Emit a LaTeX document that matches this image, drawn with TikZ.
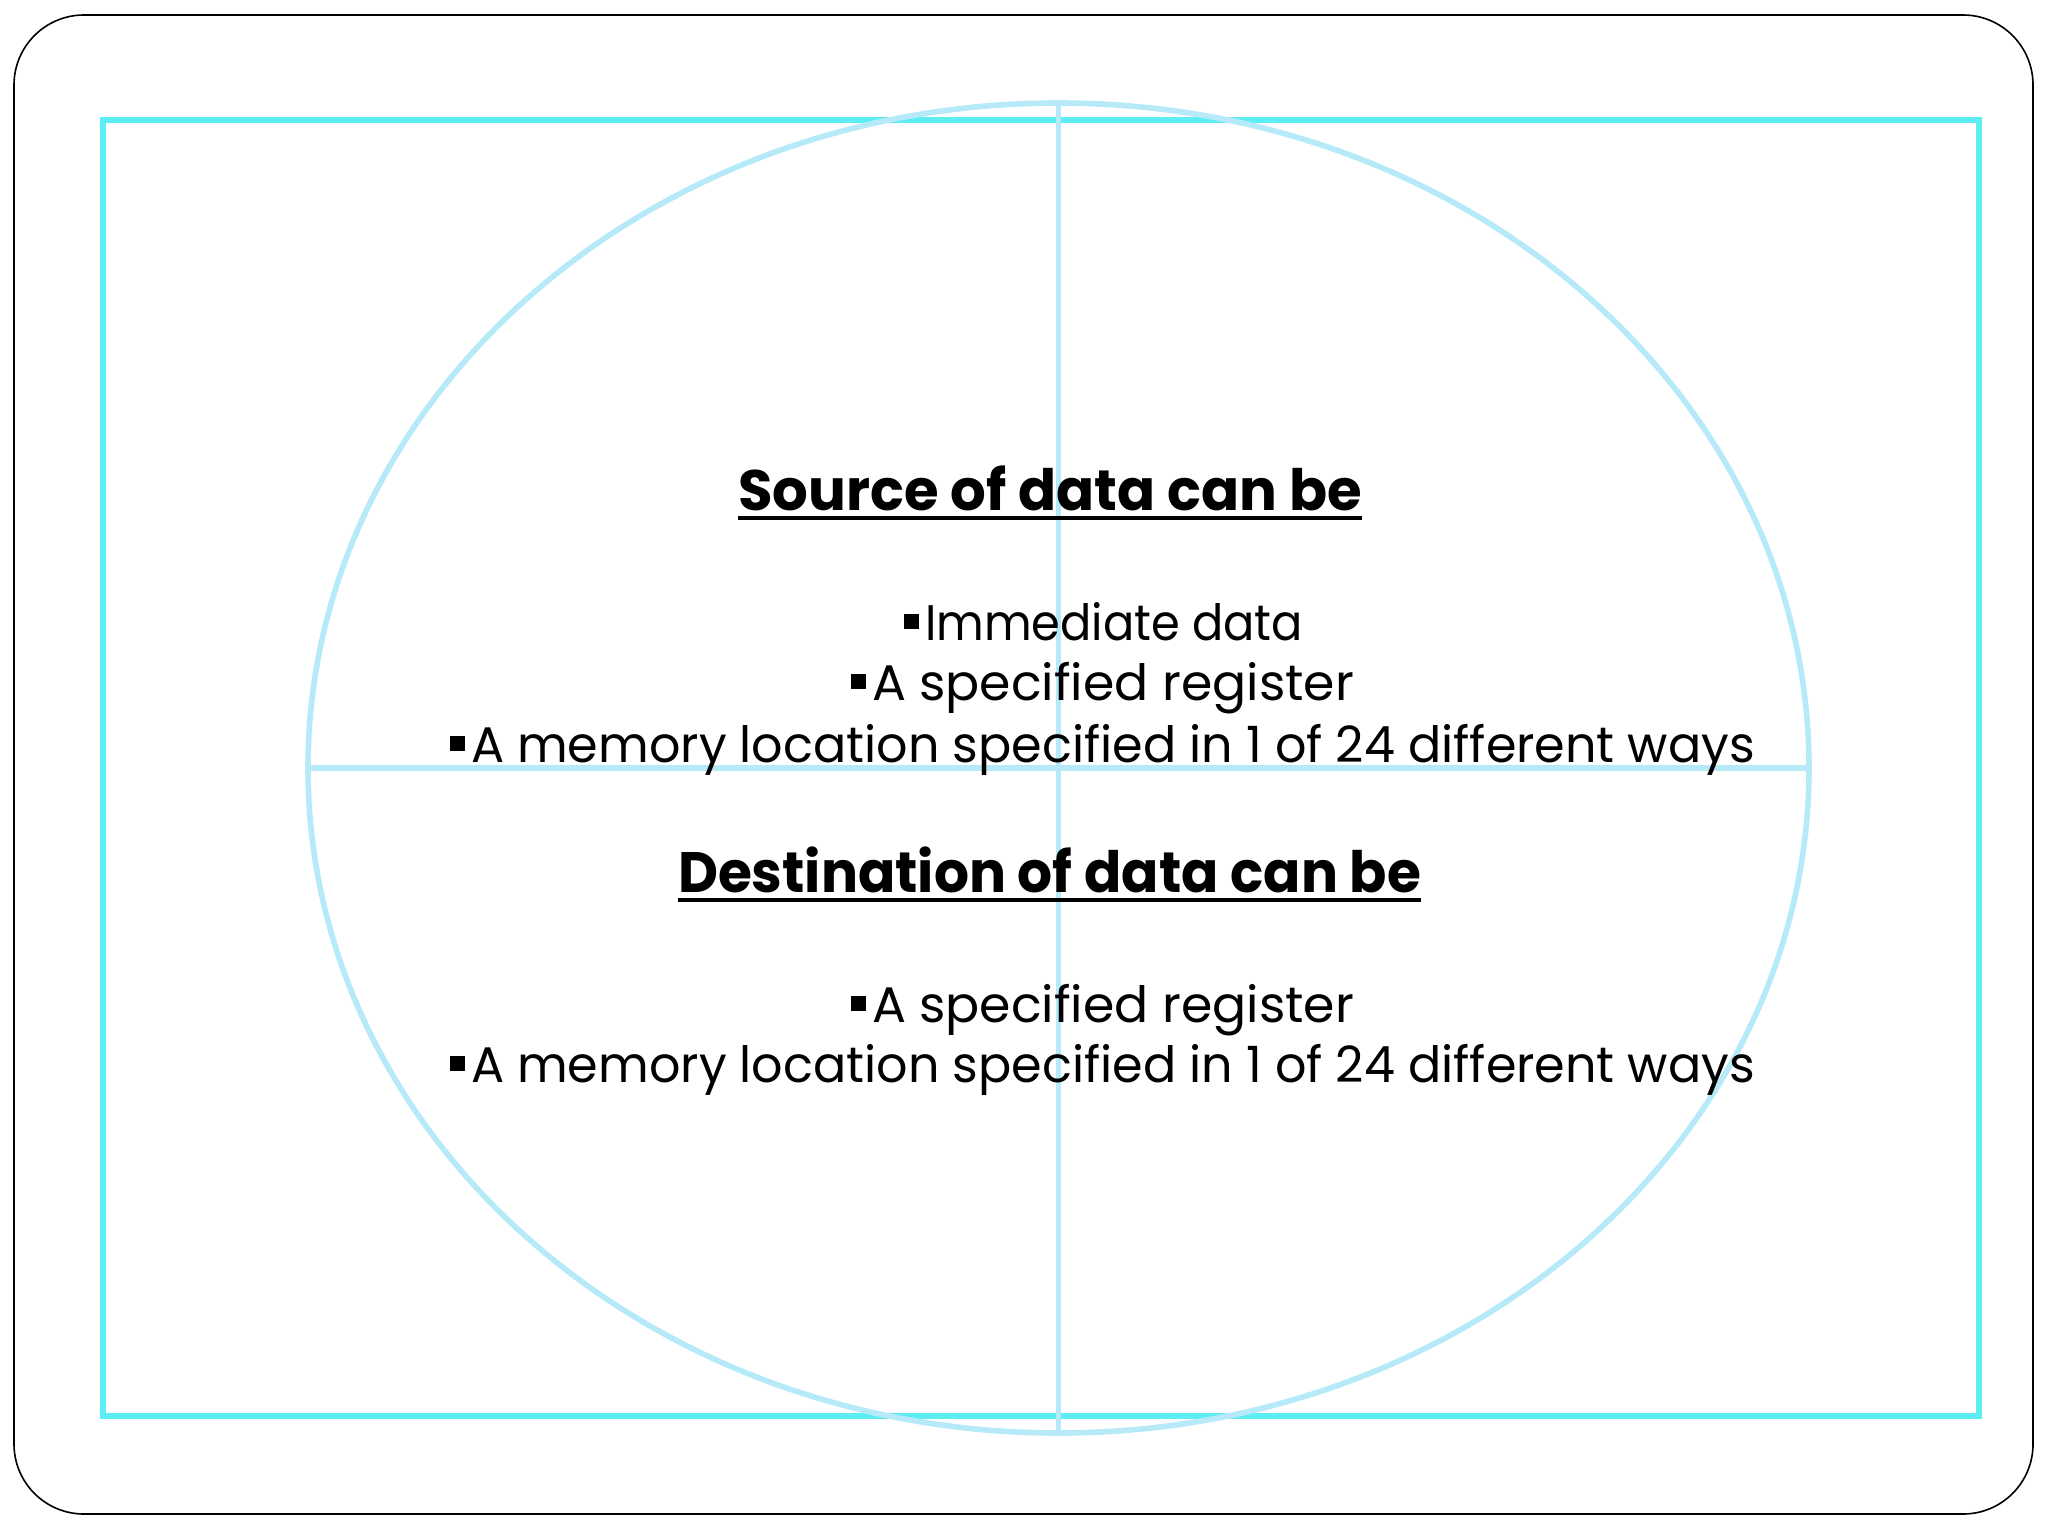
\documentclass[tikz,border=0pt]{standalone}
\usepackage{fontspec}
\usepackage{graphicx}
\setmainfont{Poppins}
\definecolor{frameCyan}{RGB}{92,238,243}
\definecolor{lightBlue}{RGB}{182,234,248}
\newsavebox\fitbox
\newcommand\fitline[2]{\sbox\fitbox{#2}\pgfmathsetmacro\fitratio{#1/\the\wd\fitbox}\scalebox{\fitratio}[1]{\usebox\fitbox}}
\newcommand\sqbullet{\rule[5.5pt]{7.5pt}{7.5pt}\hspace{3pt}}
\tikzset{
  txt/.style={inner sep=0pt, outer sep=0pt, anchor=base west, font=\fontsize{25}{30}\selectfont},
  ttl/.style={inner sep=0pt, outer sep=0pt, anchor=base west, font=\fontsize{28.5}{34}\selectfont\bfseries},
  cross/.style={draw=lightBlue, line width=2.8pt}
}
\begin{document}
\begin{tikzpicture}[x=0.5pt,y=-0.5pt]
\useasboundingbox (0,0) rectangle (2048,1536);
\fill[white] (0,0) rectangle (2048,1536);
\draw[black, line width=0.8pt, rounded corners=35pt] (14,15) rectangle (2033,1514);
\draw[frameCyan, line width=3pt] (103,120) rectangle (1979,1416);
\draw[cross] (1058.5,768) ellipse [x radius=750.5, y radius=665];
\coordinate (top) at (1058.5,103);
\coordinate (bot) at (1058.5,1433);
\coordinate (lft) at (308,768);
\coordinate (rgt) at (1809,768);
\draw[cross] (top) -- (bot);
\draw[cross] (lft) -- (rgt);

\node[ttl] (t1) at (738,510) {\fitline{312}{Source of data can be}};
\draw[line width=2pt] ([yshift=-4pt]t1.base west) -- ([yshift=-4pt]t1.base east);
\node[txt] (s1) at (904,640) {\sqbullet\fitline{189}{Immediate data}};
\node[txt] (s2) at (851,700) {\sqbullet\fitline{241}{A specified register}};
\node[txt] (s3) at (450,762) {\sqbullet\fitline{642}{A memory location specified in 1 of 24 different ways}};

\node[ttl] (t2) at (678,892) {\fitline{371.5}{Destination of data can be}};
\draw[line width=2pt] ([yshift=-4pt]t2.base west) -- ([yshift=-4pt]t2.base east);
\node[txt] (d1) at (851,1022) {\sqbullet\fitline{241}{A specified register}};
\node[txt] (d2) at (450,1082) {\sqbullet\fitline{642}{A memory location specified in 1 of 24 different ways}};
\end{tikzpicture}
\end{document}
